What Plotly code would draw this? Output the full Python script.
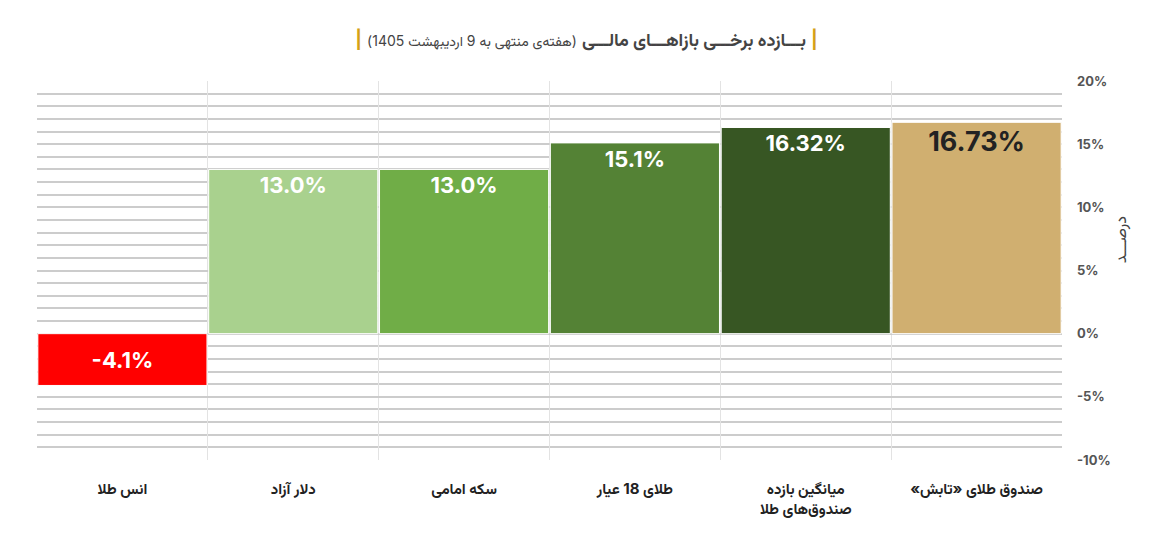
import plotly.graph_objects as go

RLM = "\u200F"
categories = ["انس طلا", "دلار آزاد", "سکه امامی", "طلای 18 عیار",
              "میانگین بازده<br>صندوق‌های طلا", "صندوق طلای «تابش»" + RLM]
values = [-4.1, 13.0, 13.0, 15.1, 16.32, 16.73]
labels = ["-4.1%", "13.0%", "13.0%", "15.1%", "16.32%", "16.73%"]
colors = ["#ff0000", "#a9d18e", "#70ad47", "#548235", "#375623", "#d0af70"]
label_colors = ["white", "white", "white", "white", "white", "#222222"]
label_sizes = [22, 22, 22, 22, 22, 27]
tick_vals = [-10, -5, 0, 5, 10, 15, 20]
tick_text = ["<b>-10%</b>", "<b>-5%</b>", "<b>0%</b>", "<b>5%</b>", "<b>10%</b>", "<b>15%</b>", "<b>20%</b>"]
y_title = "درصـــد"

FONT = "Inter, Vazirmatn, DejaVu Sans, sans-serif"

fig = go.Figure()
pos_idx = [i for i, v in enumerate(values) if v >= 0]
neg_idx = [i for i, v in enumerate(values) if v < 0]

fig.add_trace(go.Bar(
    x=[categories[i] for i in pos_idx],
    y=[values[i] for i in pos_idx],
    text=[f"<b>{labels[i]}</b>" for i in pos_idx],
    textposition="inside",
    insidetextanchor="end",
    textangle=0,
    textfont=dict(family=FONT, size=[label_sizes[i] for i in pos_idx],
                  color=[label_colors[i] for i in pos_idx]),
    marker=dict(color=[colors[i] for i in pos_idx], line=dict(color="white", width=1)),
    hoverinfo="skip",
))
fig.add_trace(go.Bar(
    x=[categories[i] for i in neg_idx],
    y=[values[i] for i in neg_idx],
    text=[f"<b>{labels[i]}</b>" for i in neg_idx],
    textposition="inside",
    insidetextanchor="middle",
    textangle=0,
    textfont=dict(family=FONT, size=[label_sizes[i] for i in neg_idx],
                  color=[label_colors[i] for i in neg_idx]),
    marker=dict(color=[colors[i] for i in neg_idx], line=dict(color="white", width=1)),
    hoverinfo="skip",
))

title_text = (RLM + "<span style='color:#d4a017'><b>|</b></span>" + RLM + " "
              "<b>بـــازده برخـــی بازاهـــای مالـــی</b>" + RLM + " "
              "<span style='font-size:14px'>" + RLM + "(هفته‌ی منتهی به 9 اردیبهشت 1405)" + RLM + "</span>" + RLM + " "
              + RLM + "<span style='color:#d4a017'><b>|</b></span>" + RLM)

fig.add_annotation(
    text=y_title, textangle=-90, xref="paper", yref="paper",
    x=1.0566, y=0.58, xanchor="center", yanchor="middle", showarrow=False,
    font=dict(family=FONT, size=16, color="#444444"),
)

fig.update_layout(
    width=1150, height=543,
    margin=dict(l=37, r=88, t=81, b=83),
    paper_bgcolor="white", plot_bgcolor="white",
    barmode="overlay", bargap=0.01,
    showlegend=False,
    font=dict(family=FONT, color="#333333"),
    title=dict(text=title_text, xref="container", yref="container",
               x=0.51, xanchor="center", y=1 - 40 / 543, yanchor="middle",
               font=dict(family=FONT, size=18, color="#444444")),
    xaxis=dict(
        categoryorder="array", categoryarray=categories,
        showgrid=True, gridcolor="#e3e3e3", gridwidth=1,
        tickson="boundaries", ticks="", showline=False,
        tickfont=dict(family=FONT, size=15, color="#222222", weight="bold"),
        ticklabelstandoff=18,
    ),
    yaxis=dict(
        side="right", range=[-10, 20],
        tickvals=tick_vals, ticktext=tick_text,
        showgrid=True, gridcolor="#cccccc", gridwidth=1.5,
        zeroline=True, zerolinecolor="#cccccc", zerolinewidth=1.5,
        minor=dict(dtick=1, showgrid=True, gridcolor="#cccccc", gridwidth=1.5),
        tickfont=dict(family=FONT, size=13, color="#555555"),
        ticklabelstandoff=14,
    ),
)

fig.write_html("out.html")
